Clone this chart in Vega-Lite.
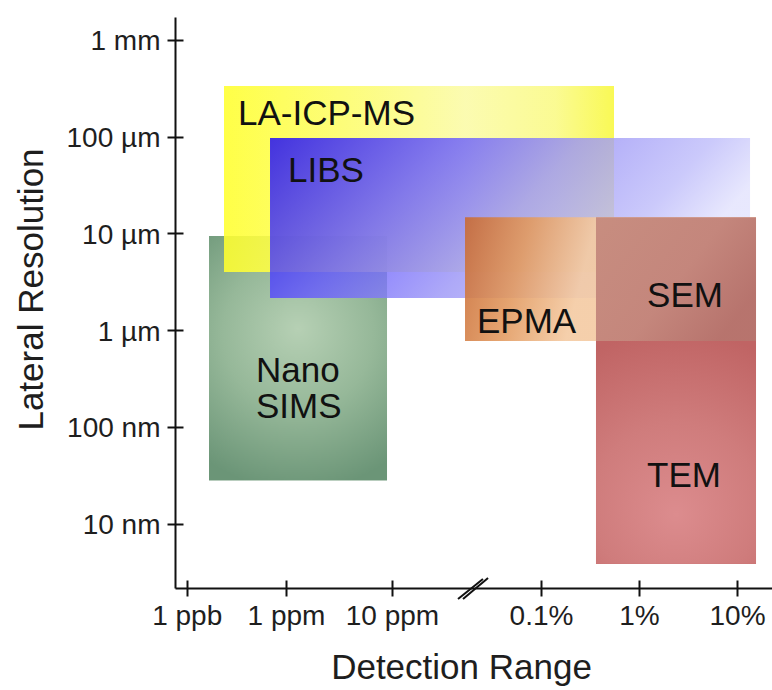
{
  "$schema": "https://vega.github.io/schema/vega-lite/v6.json",
  "width": 597,
  "height": 571,
  "autosize": {"type": "none"},
  "padding": {"left": 175, "top": 17, "right": 0, "bottom": 102},
  "background": "white",
  "config": {
    "view": {"stroke": null},
    "font": "Liberation Sans",
    "axis": {
      "grid": false,
      "domainColor": "#111111",
      "domainWidth": 2,
      "tickColor": "#111111",
      "tickWidth": 2,
      "labelColor": "#1e1e1e",
      "labelFont": "Liberation Sans",
      "labelFontSize": 28,
      "labelFlush": false,
      "labelOverlap": false,
      "labelBound": false,
      "titleFont": "Liberation Sans",
      "titleFontSize": 35,
      "titleFontWeight": "normal",
      "titleColor": "#1e1e1e"
    }
  },
  "datasets": {
    "techniques": [
      {"tech": "NanoSIMS", "label": "Nano\nSIMS", "det_min": 0.674, "det_max": 3.953, "res_min": 28, "res_max": 9400, "label_det": 2.094, "label_res": 292},
      {"tech": "LA-ICP-MS", "label": "LA-ICP-MS", "det_min": 1.127, "det_max": 6.745, "res_min": 3990, "res_max": 333000, "label_det": 1.55, "label_res": 132000},
      {"tech": "LIBS", "label": "LIBS", "det_min": 2.517, "det_max": 8.133, "res_min": 2150, "res_max": 96800, "label_det": 3.019, "label_res": 34000},
      {"tech": "EPMA", "label": "EPMA", "det_min": 4.98, "det_max": 8.194, "res_min": 773, "res_max": 14700, "label_det": 5.141, "label_res": 935},
      {"tech": "SEM", "label": "SEM", "det_min": 6.561, "det_max": 8.194, "res_min": 773, "res_max": 14700, "label_det": 7.082, "label_res": 1738},
      {"tech": "TEM", "label": "TEM", "det_min": 6.561, "det_max": 8.194, "res_min": 3.85, "res_max": 773, "label_det": 7.082, "label_res": 24}
    ],
    "axisbreak": [
      {"det_a": 4.886, "det_b": 5.221, "res_a": 1.67, "res_b": 2.69},
      {"det_a": 4.953, "det_b": 5.289, "res_a": 1.67, "res_b": 2.75}
    ]
  },
  "layer": [
    {
      "data": {"name": "techniques"},
      "transform": [{"filter": "datum.tech === 'NanoSIMS'"}],
      "mark": {
        "type": "rect",
        "color": {
          "gradient": "radial",
          "x1": 0.5, "y1": 0.38, "r1": 0,
          "x2": 0.5, "y2": 0.42, "r2": 0.62,
          "stops": [
            {"offset": 0, "color": "#b6d0b4"},
            {"offset": 0.5, "color": "#96b899"},
            {"offset": 1, "color": "#6b9577"}
          ]
        }
      },
      "encoding": {
        "x": {
          "field": "det_min", "type": "quantitative",
          "scale": {"domain": [-0.351, 0, 3, 4, 6, 7, 8, 8.357], "range": [0, 11.7, 111, 217, 366, 464, 562, 597], "nice": false, "zero": false},
          "axis": {
            "orient": "bottom",
            "values": [0, 3, 4, 6, 7, 8],
            "labelExpr": "datum.value == 0 ? '1 ppb' : datum.value == 3 ? '1 ppm' : datum.value == 4 ? '10 ppm' : datum.value == 6 ? '0.1%' : datum.value == 7 ? '1%' : '10%'",
            "tickSize": 8,
            "labelPadding": 6,
            "title": "Detection Range",
            "titleX": 286,
            "titleY": 62,
            "titleAlign": "center",
            "titleBaseline": "top"
          }
        },
        "x2": {"field": "det_max"},
        "y": {
          "field": "res_min", "type": "quantitative",
          "scale": {"type": "log", "domain": [2.17, 1720000], "nice": false},
          "axis": {
            "orient": "left",
            "values": [10, 100, 1000, 10000, 100000, 1000000],
            "labelExpr": "datum.value >= 999999 ? '1 mm' : datum.value >= 99999 ? '100 µm' : datum.value >= 9999 ? '10 µm' : datum.value >= 999 ? '1 µm' : datum.value >= 99 ? '100 nm' : '10 nm'",
            "tickSize": 8,
            "labelPadding": 7,
            "labelOffset": 2,
            "title": "Lateral Resolution",
            "titleX": -126,
            "titleY": 272,
            "titleAngle": 270,
            "titleAlign": "center",
            "titleBaseline": "bottom"
          }
        },
        "y2": {"field": "res_max"}
      }
    },
    {
      "data": {"name": "techniques"},
      "transform": [{"filter": "datum.tech === 'LA-ICP-MS'"}],
      "mark": {
        "type": "rect",
        "opacity": 0.88,
        "color": {
          "gradient": "linear",
          "x1": 0, "y1": 0, "x2": 1, "y2": 0,
          "stops": [
            {"offset": 0, "color": "#ffff2e"},
            {"offset": 0.4, "color": "#fcfc7a"},
            {"offset": 0.62, "color": "#fbfba6"},
            {"offset": 0.85, "color": "#fafa84"},
            {"offset": 1, "color": "#f8f83e"}
          ]
        }
      },
      "encoding": {
        "x": {"field": "det_min", "type": "quantitative", "scale": {"domain": [-0.351, 0, 3, 4, 6, 7, 8, 8.357], "range": [0, 11.7, 111, 217, 366, 464, 562, 597], "nice": false, "zero": false}, "axis": null},
        "x2": {"field": "det_max"},
        "y": {"field": "res_min", "type": "quantitative", "scale": {"type": "log", "domain": [2.17, 1720000], "nice": false}, "axis": null},
        "y2": {"field": "res_max"}
      }
    },
    {
      "data": {"name": "techniques"},
      "transform": [{"filter": "datum.tech === 'LIBS'"}],
      "mark": {
        "type": "rect",
        "opacity": 0.8,
        "color": {
          "gradient": "linear",
          "x1": 0, "y1": 0, "x2": 1, "y2": 0.3,
          "stops": [
            {"offset": 0, "color": "#1400ff"},
            {"offset": 0.35, "color": "#6458ff"},
            {"offset": 0.6, "color": "#9a94f6"},
            {"offset": 0.85, "color": "#bebcfa"},
            {"offset": 1, "color": "#e2e2fd"}
          ]
        }
      },
      "encoding": {
        "x": {"field": "det_min", "type": "quantitative", "scale": {"domain": [-0.351, 0, 3, 4, 6, 7, 8, 8.357], "range": [0, 11.7, 111, 217, 366, 464, 562, 597], "nice": false, "zero": false}, "axis": null},
        "x2": {"field": "det_max"},
        "y": {"field": "res_min", "type": "quantitative", "scale": {"type": "log", "domain": [2.17, 1720000], "nice": false}, "axis": null},
        "y2": {"field": "res_max"}
      }
    },
    {
      "data": {"name": "techniques"},
      "transform": [{"filter": "datum.tech === 'EPMA'"}],
      "mark": {
        "type": "rect",
        "opacity": 0.9,
        "color": {
          "gradient": "linear",
          "x1": 0, "y1": 0, "x2": 0.45, "y2": 0.05,
          "stops": [
            {"offset": 0, "color": "#c86a34"},
            {"offset": 0.5, "color": "#e29a60"},
            {"offset": 1, "color": "#f4caa2"}
          ]
        }
      },
      "encoding": {
        "x": {"field": "det_min", "type": "quantitative", "scale": {"domain": [-0.351, 0, 3, 4, 6, 7, 8, 8.357], "range": [0, 11.7, 111, 217, 366, 464, 562, 597], "nice": false, "zero": false}, "axis": null},
        "x2": {"field": "det_max"},
        "y": {"field": "res_min", "type": "quantitative", "scale": {"type": "log", "domain": [2.17, 1720000], "nice": false}, "axis": null},
        "y2": {"field": "res_max"}
      }
    },
    {
      "data": {"name": "techniques"},
      "transform": [{"filter": "datum.tech === 'SEM'"}],
      "mark": {
        "type": "rect",
        "opacity": 0.92,
        "color": {
          "gradient": "linear",
          "x1": 0, "y1": 0, "x2": 1, "y2": 0.6,
          "stops": [
            {"offset": 0, "color": "#c4887c"},
            {"offset": 0.6, "color": "#c08078"},
            {"offset": 1, "color": "#b26c68"}
          ]
        }
      },
      "encoding": {
        "x": {"field": "det_min", "type": "quantitative", "scale": {"domain": [-0.351, 0, 3, 4, 6, 7, 8, 8.357], "range": [0, 11.7, 111, 217, 366, 464, 562, 597], "nice": false, "zero": false}, "axis": null},
        "x2": {"field": "det_max"},
        "y": {"field": "res_min", "type": "quantitative", "scale": {"type": "log", "domain": [2.17, 1720000], "nice": false}, "axis": null},
        "y2": {"field": "res_max"}
      }
    },
    {
      "data": {"name": "techniques"},
      "transform": [{"filter": "datum.tech === 'TEM'"}],
      "mark": {
        "type": "rect",
        "color": {
          "gradient": "radial",
          "x1": 0.5, "y1": 0.78, "r1": 0,
          "x2": 0.5, "y2": 0.7, "r2": 0.75,
          "stops": [
            {"offset": 0, "color": "#dc8c8e"},
            {"offset": 0.5, "color": "#cf7c7c"},
            {"offset": 1, "color": "#c06464"}
          ]
        }
      },
      "encoding": {
        "x": {"field": "det_min", "type": "quantitative", "scale": {"domain": [-0.351, 0, 3, 4, 6, 7, 8, 8.357], "range": [0, 11.7, 111, 217, 366, 464, 562, 597], "nice": false, "zero": false}, "axis": null},
        "x2": {"field": "det_max"},
        "y": {"field": "res_min", "type": "quantitative", "scale": {"type": "log", "domain": [2.17, 1720000], "nice": false}, "axis": null},
        "y2": {"field": "res_max"}
      }
    },
    {
      "data": {"name": "techniques"},
      "mark": {"type": "text", "align": "left", "baseline": "alphabetic", "fontSize": 35, "font": "Liberation Sans", "color": "#111111", "lineBreak": "\n", "lineHeight": 36},
      "encoding": {
        "x": {"field": "label_det", "type": "quantitative", "scale": {"domain": [-0.351, 0, 3, 4, 6, 7, 8, 8.357], "range": [0, 11.7, 111, 217, 366, 464, 562, 597], "nice": false, "zero": false}, "axis": null},
        "y": {"field": "label_res", "type": "quantitative", "scale": {"type": "log", "domain": [2.17, 1720000], "nice": false}, "axis": null},
        "text": {"field": "label"}
      }
    },
    {
      "data": {"name": "axisbreak"},
      "mark": {"type": "rule", "color": "#111111", "strokeWidth": 2},
      "encoding": {
        "x": {
          "field": "det_a", "type": "quantitative",
          "scale": {"domain": [-0.351, 0, 3, 4, 6, 7, 8, 8.357], "range": [0, 11.7, 111, 217, 366, 464, 562, 597], "nice": false, "zero": false},
          "axis": {"orient": "bottom", "values": [0, 3, 4, 6, 7, 8], "labels": false, "domain": false, "title": null, "tickSize": 8, "offset": -8}
        },
        "x2": {"field": "det_b"},
        "y": {
          "field": "res_a", "type": "quantitative",
          "scale": {"type": "log", "domain": [2.17, 1720000], "nice": false},
          "axis": {"orient": "left", "values": [10, 100, 1000, 10000, 100000, 1000000], "labels": false, "domain": false, "title": null, "tickSize": 8, "offset": -8}
        },
        "y2": {"field": "res_b"}
      }
    }
  ],
  "resolve": {"axis": {"x": "independent", "y": "independent"}}
}
